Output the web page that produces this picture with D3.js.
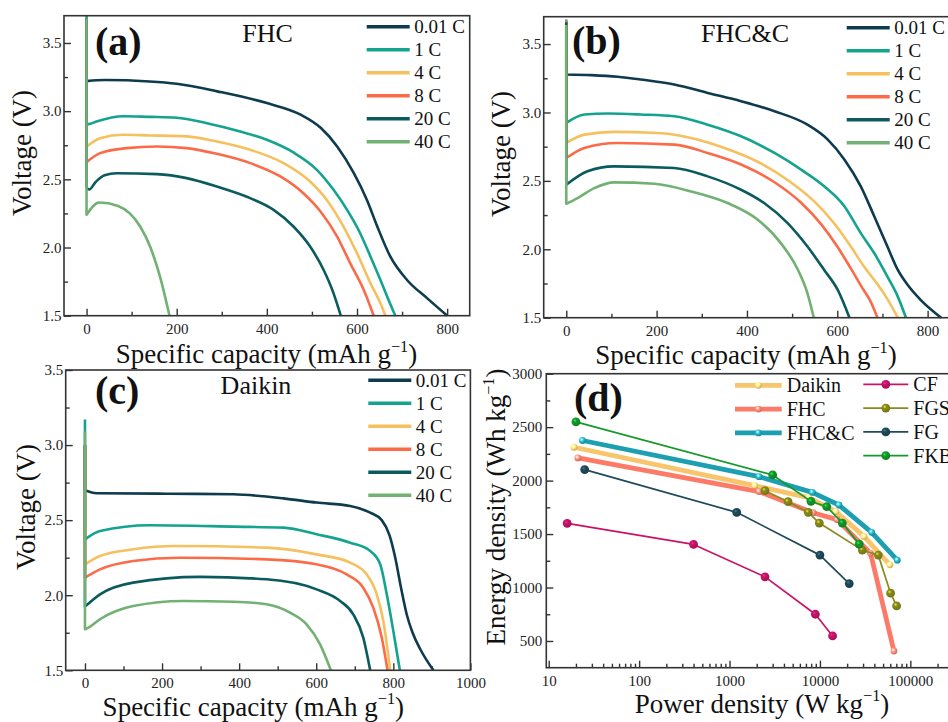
<!DOCTYPE html>
<html>
<head>
<meta charset="utf-8">
<script src="https://cdn.jsdelivr.net/npm/d3@7"></script>
<style>
  body { margin: 0; background: #fff; }
  svg { display: block; font-family: "Liberation Serif", "Times New Roman", serif; }
</style>
</head>
<body>
<svg id="chart" width="948" height="722"></svg>
<script>
// C-rates shared by panels a-c
const rates = ["0.01 C", "1 C", "4 C", "8 C", "20 C", "40 C"];
const rateColors = ["#0e3b4e", "#14a38f", "#f6c05e", "#fb6b48", "#0b5b5e", "#72b173"];

// (a) FHC   [capacity (mAh/g), voltage (V)]
const fhc001 = [[0,3.68],[0,3.22],[40,3.228],[140,3.218],[200,3.201],[290,3.145],[400,3.059],[475,2.974],[520,2.876],[556,2.741],[593,2.545],[622,2.349],[645,2.154],[674,1.933],[711,1.762],[756,1.627],[800,1.5]];
const fhc1   = [[0,3.70],[0,2.91],[4,2.905],[22,2.925],[81,2.963],[141,2.958],[200,2.952],[267,2.912],[341,2.851],[400,2.790],[459,2.697],[511,2.570],[548,2.423],[578,2.276],[607,2.105],[630,1.933],[652,1.762],[670,1.615],[685,1.5]];
const fhc4   = [[0,3.68],[0,2.74],[30,2.802],[81,2.827],[141,2.822],[222,2.815],[289,2.778],[363,2.717],[437,2.619],[496,2.484],[533,2.349],[570,2.154],[600,1.958],[630,1.737],[652,1.591],[663,1.5]];
const fhc8   = [[0,3.68],[0,2.626],[30,2.692],[89,2.729],[156,2.741],[222,2.729],[289,2.687],[363,2.619],[430,2.521],[481,2.398],[519,2.264],[556,2.080],[585,1.884],[615,1.688],[637,1.5]];
const fhc20  = [[0,3.68],[0,2.44],[6,2.425],[20,2.48],[40,2.53],[67,2.545],[156,2.538],[222,2.509],[289,2.447],[363,2.362],[415,2.276],[459,2.154],[496,2.007],[526,1.835],[548,1.664],[564,1.5]];
const fhc40  = [[0,3.68],[0,2.24],[28,2.33],[70,2.305],[96,2.25],[119,2.154],[141,2.007],[163,1.786],[184,1.5]];

// (b) FHC&C
const fhcc001 = [[0,3.66],[0,3.278],[55,3.273],[114,3.261],[165,3.241],[239,3.205],[313,3.143],[387,3.082],[461,3.009],[534,2.911],[579,2.802],[616,2.655],[652,2.460],[682,2.240],[711,2.020],[734,1.849],[756,1.739],[785,1.629],[830,1.5]];
const fhcc1   = [[0,3.68],[0,2.924],[40,2.985],[92,2.992],[165,2.985],[239,2.972],[313,2.911],[387,2.826],[461,2.704],[520,2.582],[571,2.460],[616,2.313],[652,2.118],[682,1.971],[711,1.800],[734,1.654],[752,1.5]];
const fhcc4   = [[0,3.66],[0,2.777],[40,2.838],[106,2.858],[202,2.850],[276,2.814],[350,2.741],[424,2.640],[497,2.49],[549,2.35],[593,2.19],[630,2.02],[660,1.87],[690,1.74],[712,1.63],[734,1.5]];
const fhcc8   = [[0,3.67],[0,2.667],[40,2.741],[114,2.777],[239,2.765],[313,2.704],[387,2.62],[461,2.49],[520,2.34],[565,2.18],[600,2.02],[630,1.86],[655,1.72],[672,1.63],[689,1.5]];
const fhcc20  = [[0,3.66],[0,2.472],[47,2.57],[106,2.606],[239,2.594],[313,2.533],[387,2.435],[438,2.338],[490,2.191],[534,2.020],[571,1.849],[601,1.703],[627,1.5]];
const fhcc40  = [[0,3.64],[0,2.333],[25,2.374],[62,2.447],[106,2.489],[195,2.479],[276,2.423],[357,2.338],[424,2.216],[475,2.045],[513,1.849],[534,1.678],[548,1.5]];

// (c) Daikin
const dk001 = [[0,3.0],[0,2.70],[30,2.679],[212,2.676],[385,2.672],[515,2.645],[601,2.617],[688,2.594],[740,2.55],[770,2.50],[790,2.40],[805,2.25],[820,2.05],[835,1.87],[850,1.75],[870,1.64],[904,1.5]];
const dk1   = [[0,3.17],[0,2.372],[39,2.428],[169,2.466],[385,2.457],[515,2.450],[601,2.406],[688,2.350],[740,2.295],[766,2.206],[783,2.006],[800,1.762],[817,1.5]];
const dk4   = [[0,3.0],[0,2.206],[39,2.261],[125,2.306],[238,2.328],[471,2.317],[601,2.272],[688,2.217],[731,2.139],[757,2.006],[774,1.829],[792,1.5]];
const dk8   = [[0,3.0],[0,2.117],[39,2.172],[125,2.228],[246,2.250],[471,2.239],[601,2.206],[679,2.139],[722,2.050],[748,1.917],[770,1.718],[785,1.5]];
const dk20  = [[0,3.0],[0,1.924],[39,2.006],[125,2.084],[298,2.122],[471,2.106],[601,2.039],[662,1.962],[696,1.873],[722,1.718],[740,1.5]];
const dk40  = [[0,3.09],[0,1.773],[9,1.784],[39,1.840],[125,1.928],[255,1.962],[385,1.957],[471,1.940],[532,1.884],[575,1.806],[610,1.673],[638,1.5]];

// (d) Ragone plot: power density (W/kg) and energy density (Wh/kg)
const ragoneNames = ["Daikin", "FHC", "FHC&C", "CF", "FGS", "FG", "FKB"];
const ragoneColors = ["#f8c56c", "#fd7a68", "#1c9fb0", "#c81468", "#8a8b1c", "#1f4a59", "#15992b"];
const daikinP = [19, 1900, 7500, 15000, 30700, 59400];
const daikinE = [2312, 1953, 1840, 1710, 1478, 1212];
const fhcP = [21, 2120, 8400, 15500, 36300, 65900];
const fhcE = [2212, 1897, 1700, 1635, 1320, 406];
const fhccP = [23.6, 2120, 8240, 16200, 37300, 71700];
const fhccE = [2375, 2037, 1890, 1772, 1516, 1256];
const cfP = [16, 400, 2470, 8900, 13800];
const cfE = [1600, 1403, 1100, 750, 547];
const fgsP = [2470, 4440, 7430, 9840, 29400, 44200, 60500, 70500];
const fgsE = [1906, 1803, 1703, 1603, 1350, 1303, 947, 828];
const fgP = [25, 1200, 10000, 21100];
const fgE = [2103, 1703, 1303, 1037];
const fkbP = [20, 3000, 7960, 11900, 17700, 27200];
const fkbE = [2550, 2053, 1806, 1756, 1603, 1406];

const svg = d3.select("#chart");
svg.append("rect").attr("width", 948).attr("height", 722).attr("fill", "#fff");

function axisTitle(g, x, y, rotate, main, sup, size) {
  const t = g.append("text")
    .attr("transform", `translate(${x},${y})` + (rotate ? " rotate(-90)" : ""))
    .attr("text-anchor", "middle")
    .attr("font-size", size)
    .attr("fill", "#111");
  t.append("tspan").text(main);
  if (sup) {
    t.append("tspan").attr("font-size", size * 0.6).attr("dy", -size * 0.42).text(sup);
    t.append("tspan").attr("dy", size * 0.42).text(")");
  }
}

function styleAxis(sel) {
  sel.attr("font-family", null);
  sel.select(".domain").remove();
  sel.selectAll(".tick line").attr("stroke", "#333").attr("stroke-width", 1.4);
  sel.selectAll(".tick text").attr("font-size", 15).attr("fill", "#222");
}

function frame(g, l, r, t, b) {
  g.append("rect").attr("x", l).attr("y", t).attr("width", r - l).attr("height", b - t)
    .attr("fill", "none").attr("stroke", "#333").attr("stroke-width", 1.6);
}

function voltagePanel(p) {
  const g = svg.append("g");
  const x = d3.scaleLinear().domain(p.xDomain).range([p.left, p.right]);
  const y = d3.scaleLinear().domain(p.yDomain).range([p.bottom, p.top]);

  // ticks (inside)
  g.append("g").attr("transform", `translate(0,${p.bottom})`)
    .call(d3.axisBottom(x).tickValues(p.xMajor).tickSize(-7).tickPadding(7.5).tickFormat(d3.format("d")))
    .call(styleAxis);
  g.append("g").attr("transform", `translate(0,${p.bottom})`)
    .call(d3.axisBottom(x).tickValues(p.xMinor).tickSize(-4).tickFormat(""))
    .call(styleAxis);
  g.append("g").attr("transform", `translate(${p.left},0)`)
    .call(d3.axisLeft(y).tickValues([1.5, 2, 2.5, 3, 3.5]).tickSize(-7).tickPadding(2.5).tickFormat(d3.format(".1f")))
    .call(styleAxis);
  g.append("g").attr("transform", `translate(${p.left},0)`)
    .call(d3.axisLeft(y).tickValues([1.75, 2.25, 2.75, 3.25]).tickSize(-4).tickFormat(""))
    .call(styleAxis);

  const line = d3.line().x(d => x(d[0])).y(d => y(d[1])).curve(d3.curveMonotoneX);
  p.curves.forEach((pts, i) => {
    const d = `M${x(pts[0][0])},${y(pts[0][1])}` + line(pts.slice(1)).replace(/^M/, "L");
    g.append("path").attr("d", d).attr("fill", "none")
      .attr("stroke", rateColors[i]).attr("stroke-width", 2.6)
      .attr("stroke-linejoin", "round");
  });

  frame(g, p.left, p.right, p.top, p.bottom);

  // legend
  rates.forEach((r, i) => {
    const ly = p.legY + i * 23;
    g.append("line").attr("x1", p.legX).attr("x2", p.legX + 43).attr("y1", ly).attr("y2", ly)
      .attr("stroke", rateColors[i]).attr("stroke-width", 3.4);
    g.append("text").attr("x", p.legX + 47.5).attr("y", ly).attr("dy", "0.34em")
      .attr("font-size", 19).attr("fill", "#111").text(r);
  });

  g.append("text").attr("x", p.labX).attr("y", p.labY).attr("font-size", 40)
    .attr("font-weight", "bold").attr("fill", "#111").text(p.label);
  g.append("text").attr("x", p.nameX).attr("y", p.nameY).attr("text-anchor", "middle")
    .attr("font-size", 26).attr("fill", "#111").text(p.name);

  axisTitle(g, p.ytX, p.ytY, true, "Voltage (V)", null, 27);
  axisTitle(g, p.xtX, p.xtY, false, "Specific capacity (mAh g", "\u22121", 27);
}

voltagePanel({
  curves: [fhc001, fhc1, fhc4, fhc8, fhc20, fhc40],
  left: 64, right: 469.7, top: 15.7, bottom: 315.7,
  xDomain: [-50, 850], yDomain: [1.5, 3.7],
  xMajor: [0, 200, 400, 600, 800], xMinor: [100, 300, 500, 700],
  legX: 366.7, legY: 26.7, label: "(a)", labX: 95, labY: 55,
  name: "FHC", nameX: 267.5, nameY: 42,
  ytX: 31, ytY: 153, xtX: 266.5, xtY: 363
});

voltagePanel({
  curves: [fhcc001, fhcc1, fhcc4, fhcc8, fhcc20, fhcc40],
  left: 543.7, right: 950.2, top: 16.7, bottom: 317.7,
  xDomain: [-50, 850], yDomain: [1.5, 3.7],
  xMajor: [0, 200, 400, 600, 800], xMinor: [100, 300, 500, 700],
  legX: 846.7, legY: 27.7, label: "(b)", labX: 572, labY: 53.5,
  name: "FHC&C", nameX: 745, nameY: 41.7,
  ytX: 510, ytY: 154, xtX: 746, xtY: 364
});

voltagePanel({
  curves: [dk001, dk1, dk4, dk8, dk20, dk40],
  left: 65.7, right: 470.4, top: 370, bottom: 670.3,
  xDomain: [-50, 1000], yDomain: [1.5, 3.5],
  xMajor: [0, 200, 400, 600, 800, 1000], xMinor: [100, 300, 500, 700, 900],
  legX: 368.3, legY: 380.3, label: "(c)", labX: 95, labY: 404,
  name: "Daikin", nameX: 256, nameY: 394,
  ytX: 34.5, ytY: 507, xtX: 253.3, xtY: 715.5
});

// (d) Ragone panel
(function () {
  const L = 546.3, T = 373.7, B = 667.7;
  const R = L + Math.log10(1e6 / 9.4) * 90.4;
  const g = svg.append("g");
  const x = d3.scaleLog().domain([9.4, 1e6]).range([L, R]);
  const y = d3.scaleLinear().domain([250, 3000]).range([B, T]);

  const minor = [];
  [10, 100, 1000, 10000, 100000].forEach(dec => {
    for (let k = 2; k <= 9; k++) minor.push(dec * k);
  });
  g.append("g").attr("transform", `translate(0,${B})`)
    .call(d3.axisBottom(x).tickValues([10, 100, 1000, 10000, 100000]).tickSize(-7).tickPadding(7.5).tickFormat(d3.format("d")))
    .call(styleAxis);
  g.append("g").attr("transform", `translate(0,${B})`)
    .call(d3.axisBottom(x).tickValues(minor).tickSize(-4).tickFormat(""))
    .call(styleAxis);
  g.append("g").attr("transform", `translate(${L},0)`)
    .call(d3.axisLeft(y).tickValues([500, 1000, 1500, 2000, 2500, 3000]).tickSize(-7).tickPadding(4).tickFormat(d3.format("d")))
    .call(styleAxis);
  g.append("g").attr("transform", `translate(${L},0)`)
    .call(d3.axisLeft(y).tickValues([750, 1250, 1750, 2250, 2750]).tickSize(-4).tickFormat(""))
    .call(styleAxis);

  const defs = svg.append("defs");
  ragoneColors.forEach((c, i) => {
    const gr = defs.append("radialGradient").attr("id", "ball" + i)
      .attr("cx", "38%").attr("cy", "35%").attr("r", "65%");
    gr.append("stop").attr("offset", "0%").attr("stop-color", i < 3 ? "#fff" : d3.color(c).brighter(1.6));
    gr.append("stop").attr("offset", i < 3 ? "45%" : "30%").attr("stop-color", i < 3 ? d3.color(c).brighter(0.6) : c);
    gr.append("stop").attr("offset", "100%").attr("stop-color", d3.color(c).darker(0.5));
  });

  const series = [
    [daikinP, daikinE], [fhcP, fhcE], [fhccP, fhccE],
    [cfP, cfE], [fgsP, fgsE], [fgP, fgE], [fkbP, fkbE]
  ];
  const line = d3.line().x(d => x(d[0])).y(d => y(d[1]));
  series.forEach(([P, E], i) => {
    const pts = P.map((p, j) => [p, E[j]]);
    const thick = i < 3;
    g.append("path").attr("d", line(pts)).attr("fill", "none")
      .attr("stroke", ragoneColors[i]).attr("stroke-width", thick ? 4.8 : 1.7)
      .attr("stroke-linejoin", "round");
    g.selectAll(null).data(pts).enter().append("circle")
      .attr("cx", d => x(d[0])).attr("cy", d => y(d[1]))
      .attr("r", thick ? 3.4 : 4.4)
      .attr("fill", `url(#ball${i})`);
  });

  frame(g, L, R, T, B);

  // legend
  ragoneNames.forEach((n, i) => {
    const col = i < 3 ? 0 : 1;
    const row = i < 3 ? i : i - 3;
    const x1 = col ? 863.3 : 735;
    const w = col ? 45 : 46.7;
    const ly = (col ? 384.3 : 385.3) + row * 23.8;
    g.append("line").attr("x1", x1).attr("x2", x1 + w).attr("y1", ly).attr("y2", ly)
      .attr("stroke", ragoneColors[i]).attr("stroke-width", col ? 1.7 : 4.8);
    g.append("circle").attr("cx", x1 + w / 2).attr("cy", ly).attr("r", col ? 4.4 : 3.4)
      .attr("fill", `url(#ball${i})`);
    g.append("text").attr("x", x1 + w + 5).attr("y", ly).attr("dy", "0.34em")
      .attr("font-size", 20).attr("fill", "#111").text(n);
  });

  g.append("text").attr("x", 574).attr("y", 411).attr("font-size", 40)
    .attr("font-weight", "bold").attr("fill", "#111").text("(d)");

  axisTitle(g, 505, 507, true, "Energy density (Wh kg", "\u22121", 27);
  axisTitle(g, 762, 712.7, false, "Power density (W kg", "\u22121", 27);
})();
</script>
</body>
</html>
